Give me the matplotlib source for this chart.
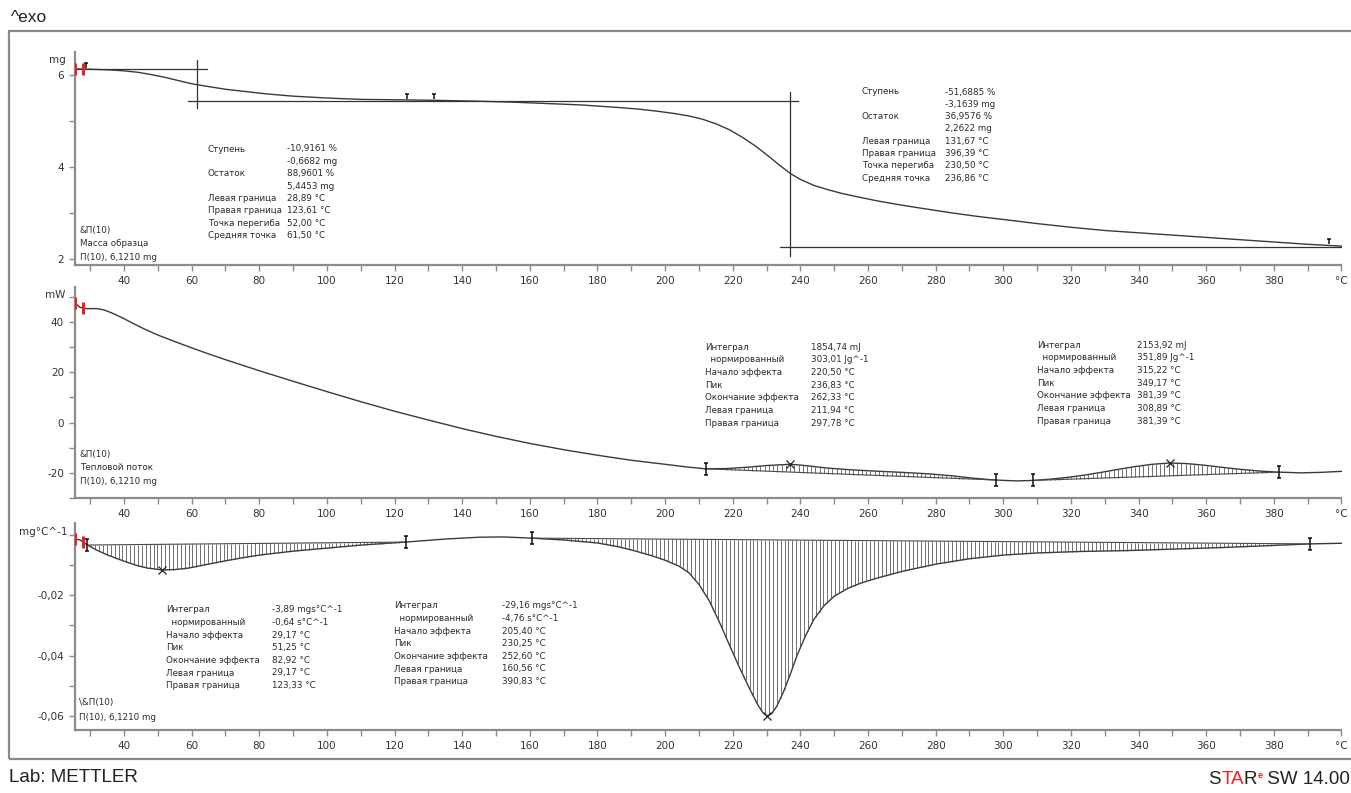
import numpy as np
import matplotlib
matplotlib.use('Agg')
import matplotlib.pyplot as plt
from matplotlib.path import Path
from matplotlib.patches import Rectangle
from matplotlib.offsetbox import TextArea, HPacker, AnnotationBbox

# --- TGA (mass, mg) ---
tga_T = [25.5, 28, 32, 36, 40, 44, 48, 52, 56, 60, 64, 70, 76, 82, 90, 100, 110, 122, 132, 145,
         155, 165, 175, 185, 192, 198, 203, 207, 211, 215, 219, 223, 227, 231, 234, 237, 240,
         244, 248, 252, 257, 263, 270, 277, 285, 293, 300, 310, 320, 330, 340, 350, 360, 370,
         380, 390, 400]
tga_mass = [6.13, 6.13, 6.12, 6.11, 6.09, 6.06, 6.01, 5.95, 5.88, 5.81, 5.76, 5.69, 5.64, 5.59,
            5.54, 5.50, 5.47, 5.46, 5.45, 5.43, 5.41, 5.38, 5.35, 5.30, 5.26, 5.21, 5.16, 5.11,
            5.04, 4.94, 4.81, 4.64, 4.44, 4.21, 4.03, 3.86, 3.73, 3.60, 3.51, 3.43, 3.35, 3.26,
            3.17, 3.09, 3.00, 2.92, 2.86, 2.77, 2.69, 2.62, 2.57, 2.52, 2.47, 2.42, 2.37, 2.32,
            2.28]

# --- DSC (heat flow, mW) ---
dsc_T = [25.5, 27, 29, 32, 34, 36, 38, 40, 43, 46, 50, 55, 60, 65, 70, 80, 90, 100, 110, 120,
         130, 140, 150, 160, 170, 180, 190, 200, 206, 212, 218, 224, 230, 234, 237, 240, 244,
         248, 255, 262, 270, 278, 285, 291, 296, 300, 304, 309, 314, 319, 324, 329, 334, 339,
         344, 349, 354, 359, 364, 370, 376, 381, 388, 394, 400]
dsc_mw = [47.5, 45.8, 45.3, 45.3, 44.8, 43.8, 42.6, 41.3, 39.2, 37.2, 34.8, 32.2, 29.7, 27.3,
          25.0, 20.6, 16.4, 12.3, 8.3, 4.5, 1.0, -2.4, -5.5, -8.3, -10.8, -13.0, -15.0, -16.6,
          -17.6, -18.4, -18.3, -17.8, -17.1, -16.8, -16.6, -16.9, -17.5, -18.1, -18.8, -19.3,
          -19.8, -20.4, -21.2, -22.1, -22.7, -23.0, -23.2, -23.0, -22.5, -21.8, -20.9, -19.8,
          -18.6, -17.5, -16.6, -16.1, -16.3, -16.9, -17.7, -18.6, -19.3, -19.7, -20.0, -19.8,
          -19.4]

# --- DTG (mg/°C) ---
dtg_T = [25.5, 27, 29.2, 32, 35, 38, 41, 44, 47, 51.3, 55, 59, 64, 70, 75, 80, 90, 100, 110,
         123.3, 135, 145, 152, 160.6, 170, 180, 186, 191, 196, 200, 204, 207, 210, 213, 216,
         219, 222, 225, 227.5, 229, 230.25, 231.5, 233, 235, 237, 239, 241.5, 244, 247, 250,
         254, 258, 263, 270, 280, 290, 300, 310, 323, 337, 351, 365, 380, 390.8, 400]
dtg_val = [-0.0015, -0.0018, -0.0035, -0.0052, -0.0067, -0.0080, -0.0092, -0.0103, -0.0111,
           -0.0117, -0.0116, -0.0111, -0.0100, -0.0087, -0.0077, -0.0068, -0.0055, -0.0045,
           -0.0035, -0.0025, -0.0015, -0.0009, -0.0008, -0.0012, -0.0018, -0.0028, -0.0040,
           -0.0054, -0.0070, -0.0085, -0.0104, -0.0126, -0.0165, -0.0218, -0.0288, -0.0365,
           -0.0440, -0.0510, -0.0565, -0.0590, -0.0600, -0.0592, -0.0568, -0.0520, -0.0462,
           -0.0400, -0.0335, -0.0280, -0.0235, -0.0204, -0.0178, -0.0160, -0.0143, -0.0122,
           -0.0098, -0.0080, -0.0068, -0.0061, -0.0056, -0.0053, -0.0048, -0.0043, -0.0036,
           -0.0031, -0.0029]

# evaluation results
tga_steps = [(6.12, 5.445, 61.50), (5.426, 2.262, 236.86)]   # (level before, level after, midpoint)
tga_flags = [28.89, 123.61, 131.67, 396.39]
dsc_limits = [(211.94, 297.78), (308.89, 381.39)]
dsc_peaks = [236.83, 349.17]
dtg_limits = [(29.17, 123.33), (160.56, 390.83)]
dtg_peaks = [51.25, 230.25]
start_marks = [25.6, 28.0]

tga_labels = ["Ступень", "", "Остаток", "", "Левая граница", "Правая граница",
              "Точка перегиба", "Средняя точка"]
tga_res1 = ["-10,9161 %", "-0,6682 mg", "88,9601 %", "5,4453 mg", "28,89 °C", "123,61 °C",
            "52,00 °C", "61,50 °C"]
tga_res2 = ["-51,6885 %", "-3,1639 mg", "36,9576 %", "2,2622 mg", "131,67 °C", "396,39 °C",
            "230,50 °C", "236,86 °C"]
peak_labels = ["Интеграл", "  нормированный", "Начало эффекта", "Пик", "Окончание эффекта",
               "Левая граница", "Правая граница"]
dsc_res1 = ["1854,74 mJ", "303,01 Jg^-1", "220,50 °C", "236,83 °C", "262,33 °C", "211,94 °C",
            "297,78 °C"]
dsc_res2 = ["2153,92 mJ", "351,89 Jg^-1", "315,22 °C", "349,17 °C", "381,39 °C", "308,89 °C",
            "381,39 °C"]
dtg_res1 = ["-3,89 mgs°C^-1", "-0,64 s°C^-1", "29,17 °C", "51,25 °C", "82,92 °C", "29,17 °C",
            "123,33 °C"]
dtg_res2 = ["-29,16 mgs°C^-1", "-4,76 s°C^-1", "205,40 °C", "230,25 °C", "252,60 °C",
            "160,56 °C", "390,83 °C"]

W, H = 1351, 793
CURVE = '#3a3a3a'
AXC = '#8c8c8c'
TXT = '#2a2a2a'

plt.rcParams['font.family'] = ['DejaVu Sans']

fig = plt.figure(figsize=(W / 100, H / 100), dpi=100)


def fx(px):
    return px / W


def fy(py):
    return 1 - py / H


def ftext(px, py, s, **kw):
    kw.setdefault('fontsize', 6.3)
    kw.setdefault('color', TXT)
    kw.setdefault('va', 'center')
    fig.text(fx(px), fy(py), s, **kw)


def text_block(xl, xv, y0, dy, labels, values):
    for i, (a, b) in enumerate(zip(labels, values)):
        ftext(xl, y0 + i * dy, a)
        ftext(xv, y0 + i * dy, b)


def make_axes(top, bottom, ylim, major, minor, fmt):
    ax = fig.add_axes([fx(75), fy(bottom), fx(1341.5) - fx(75), (bottom - top) / H])
    ax.patch.set_alpha(0)
    ax.set_xlim(25.5, 400)
    ax.set_ylim(*ylim)
    for s in ['top', 'right']:
        ax.spines[s].set_visible(False)
    for s in ['left', 'bottom']:
        ax.spines[s].set_color(AXC)
        ax.spines[s].set_linewidth(1.6)
    xt = np.arange(40, 401, 20)
    ax.set_xticks(xt)
    ax.set_xticklabels([str(t) for t in xt[:-1]] + ['°C'])
    ax.set_xticks(np.arange(30, 400, 10), minor=True)
    ax.set_yticks(major)
    ax.set_yticklabels([fmt(v) for v in major])
    ax.set_yticks(minor, minor=True)
    ax.tick_params(which='both', direction='out', length=4, width=1, color=AXC,
                   labelsize=7.5, labelcolor='#333333', pad=4)
    return ax


# markers
bar_marker = Path([(0, -1), (0, 1), (-0.35, 1), (0.35, 1), (-0.35, -1), (0.35, -1)],
                  [Path.MOVETO, Path.LINETO, Path.MOVETO, Path.LINETO, Path.MOVETO, Path.LINETO])
flag_marker = Path([(0, 0), (0, 1), (-0.4, 1), (0.4, 1)],
                   [Path.MOVETO, Path.LINETO, Path.MOVETO, Path.LINETO])


def hatch(ax, T, y, lo, hi, step=1.25):
    xs = np.arange(lo, hi, step)
    yc = np.interp(xs, T, y)
    y0, y1 = np.interp([lo, hi], T, y)
    yb = y0 + (y1 - y0) * (xs - lo) / (hi - lo)
    ax.vlines(xs, yb, yc, color='#4a4a4a', lw=0.55)
    ax.plot([lo, hi], [y0, y1], color='#4a4a4a', lw=0.8)
    ax.plot([lo, hi], [y0, y1], ls='none', marker=bar_marker, ms=9, mew=1.1, color='#111111')


def red_marks(ax, T, y):
    ym = np.interp(start_marks, T, y)
    ax.plot(start_marks, ym, ls='none', marker='|', ms=8, mew=2.2, color='#e8202a', zorder=5)


# frame and captions
fig.add_artist(Rectangle((fx(9), fy(759)), fx(1360) - fx(9), (759 - 31) / H, transform=fig.transFigure,
                         fill=False, ec='#8a8a8a', lw=1.6))
ftext(11, 17, '^exo', fontsize=12.5, family='Liberation Sans', color='#222222')
ftext(9, 777, 'Lab: METTLER', fontsize=13.5, family='Liberation Sans', color='#222222')

parts = [TextArea('S', textprops=dict(color='#222222', fontsize=13.5, family='Liberation Sans')),
         TextArea('TA', textprops=dict(color='#e8202a', fontsize=13.5, family='Liberation Sans')),
         TextArea('R', textprops=dict(color='#222222', fontsize=13.5, family='Liberation Sans')),
         TextArea('e', textprops=dict(color='#e8202a', fontsize=6.5, family='Liberation Sans',
                                      weight='bold')),
         TextArea(' SW 14.00', textprops=dict(color='#222222', fontsize=13.5, family='Liberation Sans'))]
logo = HPacker(children=parts, align='top', pad=0, sep=0)
fig.add_artist(AnnotationBbox(logo, (fx(1350), fy(788)), xycoords='figure fraction',
                              box_alignment=(1, 0), frameon=False, pad=0))

# ---------------- TGA ----------------
ax1 = make_axes(52, 265, (1.87, 6.5), [2, 4, 6], [3, 5], lambda v: f'{v:g}')
ax1.plot(tga_T, tga_mass, color=CURVE, lw=1.0)
s1, s2 = tga_steps
ax1.plot([25.5, 64.5], [s1[0], s1[0]], color='#333333', lw=0.9)
ax1.plot([s1[2], s1[2]], [6.33, 5.28], color='#333333', lw=0.9)
ax1.plot([59, 239.3], [s1[1], s1[1]], color='#333333', lw=0.9)
ax1.plot([s2[2], s2[2]], [5.62, 2.07], color='#333333', lw=0.9)
ax1.plot([234, 400], [s2[1], s2[1]], color='#333333', lw=0.9)
ax1.plot(tga_flags, np.interp(tga_flags, tga_T, tga_mass) + 0.03, ls='none', marker=flag_marker,
         ms=7, mew=1.1, color='#111111')
red_marks(ax1, tga_T, tga_mass)
ftext(66, 60, 'mg', fontsize=7.5, ha='right', color='#333333')
text_block(208, 287, 149, 12.35, tga_labels, tga_res1)
text_block(862, 945, 92, 12.3, tga_labels, tga_res2)
for i, s in enumerate(['&П(10)', 'Масса образца', 'П(10), 6,1210 mg']):
    ftext(80, 231 + i * 13, s)

# ---------------- DSC ----------------
ax2 = make_axes(287, 498, (-29.7, 53.9), [-20, 0, 20, 40], [-30, -10, 10, 30, 50],
                lambda v: f'{v:g}')
ax2.plot(dsc_T, dsc_mw, color=CURVE, lw=1.0)
for lo, hi in dsc_limits:
    hatch(ax2, dsc_T, dsc_mw, lo, hi)
ax2.plot(dsc_peaks, np.interp(dsc_peaks, dsc_T, dsc_mw), ls='none', marker='x', ms=6, mew=0.9,
         color='#222222')
red_marks(ax2, dsc_T, dsc_mw)
ftext(65, 295, 'mW', fontsize=7.5, ha='right', color='#333333')
text_block(705, 811, 347, 12.67, peak_labels, dsc_res1)
text_block(1037, 1137, 345, 12.67, peak_labels, dsc_res2)
for i, s in enumerate(['&П(10)', 'Тепловой поток', 'П(10), 6,1210 mg']):
    ftext(80, 455 + i * 13, s)

# ---------------- DTG ----------------
ax3 = make_axes(523, 730, (-0.0646, 0.0038), [-0.06, -0.04, -0.02, 0],
                [-0.05, -0.03, -0.01], lambda v: f'{v:.2f}'.replace('.', ',') if v else '')
ax3.plot(dtg_T, dtg_val, color=CURVE, lw=1.0)
for lo, hi in dtg_limits:
    hatch(ax3, dtg_T, dtg_val, lo, hi, step=1.15)
ax3.plot(dtg_peaks, np.interp(dtg_peaks, dtg_T, dtg_val), ls='none', marker='x', ms=6, mew=0.9,
         color='#222222')
red_marks(ax3, dtg_T, dtg_val)
ftext(67, 532, 'mg°C^-1', fontsize=7.5, ha='right', color='#333333')
text_block(166, 272, 610, 12.6, peak_labels, dtg_res1)
text_block(394, 502, 606, 12.6, peak_labels, dtg_res2)
ftext(79, 703, '\\&П(10)')
ftext(79, 717, 'П(10), 6,1210 mg')

fig.savefig('out.png', dpi=100, facecolor='white')
